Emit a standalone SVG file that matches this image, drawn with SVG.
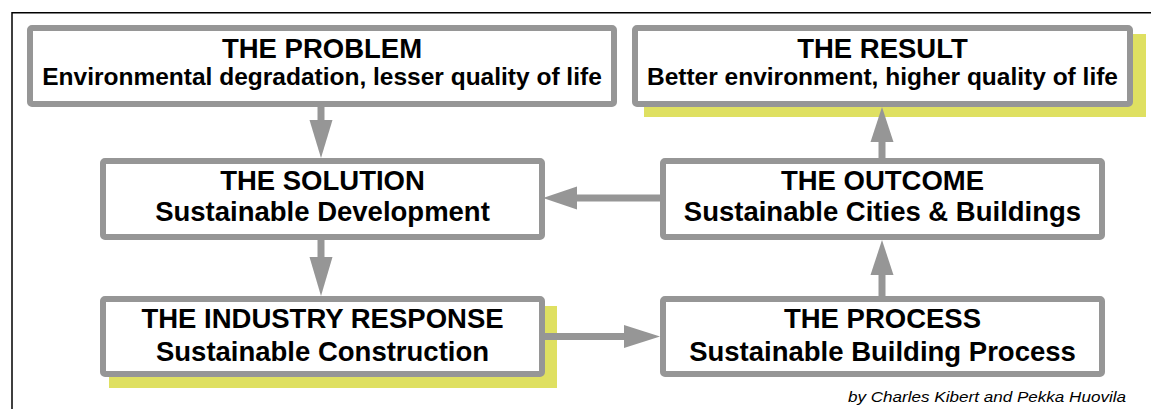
<svg xmlns="http://www.w3.org/2000/svg" width="1151" height="409" viewBox="0 0 1151 409">
<style>
.box{fill:#ffffff;stroke:#969696;stroke-width:6}
.shadow{fill:#dfe061;stroke:none}
.t{font-family:"Liberation Sans",Arial,sans-serif;font-weight:bold;fill:#000;text-anchor:middle}
.title{font-size:27.5px}
.sub{font-size:27.5px}
.subs{font-size:24.5px}
.shaft{stroke:#969696;stroke-width:7;fill:none}
.head{fill:#969696;stroke:none}
.frame{stroke:#000;stroke-width:1.5;fill:none}
.credit{font-family:"Liberation Sans",Arial,sans-serif;font-style:italic;font-size:15px;fill:#000}
</style>
<rect width="1151" height="409" fill="#ffffff"/>
<path class="frame" d="M12,409 V12.7 H1151"/>

<g id="problem">
<rect class="box" x="30" y="28" width="584" height="76" rx="2"/>
<text class="t title" x="322" y="57.5">THE PROBLEM</text>
<text class="t subs" x="322" y="84.5">Environmental degradation, lesser quality of life</text>
</g>

<g id="result">
<rect class="shadow" x="644" y="34" width="502" height="83"/>
<rect class="box" x="635" y="28" width="495" height="76" rx="2"/>
<text class="t title" x="882.5" y="57.5">THE RESULT</text>
<text class="t subs" x="882.5" y="84.5">Better environment, higher quality of life</text>
</g>

<g id="solution">
<rect class="box" x="103" y="161" width="439" height="76" rx="2"/>
<text class="t title" x="322.5" y="190">THE SOLUTION</text>
<text class="t sub" x="322.5" y="221">Sustainable Development</text>
</g>

<g id="outcome">
<rect class="box" x="663" y="161" width="439" height="76" rx="2"/>
<text class="t title" x="882.5" y="190">THE OUTCOME</text>
<text class="t sub" x="882.5" y="221">Sustainable Cities &amp; Buildings</text>
</g>

<g id="industry">
<rect class="shadow" x="109" y="306" width="448" height="82"/>
<rect class="box" x="103" y="299" width="439" height="75" rx="2"/>
<text class="t title" x="322.5" y="328">THE INDUSTRY RESPONSE</text>
<text class="t sub" x="322.5" y="361">Sustainable Construction</text>
</g>

<g id="process">
<rect class="box" x="663" y="299" width="439" height="75" rx="2"/>
<text class="t title" x="882.5" y="328">THE PROCESS</text>
<text class="t sub" x="882.5" y="361">Sustainable Building Process</text>
</g>

<g id="connectors">
<line class="shaft" x1="321" y1="107" x2="321" y2="122"/>
<polygon class="head" points="309.5,120 332.5,120 321,158"/>
<line class="shaft" x1="321" y1="240" x2="321" y2="259"/>
<polygon class="head" points="309.5,257 332.5,257 321,296"/>
<line class="shaft" x1="660" y1="198" x2="575" y2="198"/>
<polygon class="head" points="577,186.5 577,209.5 543,198"/>
<line class="shaft" x1="545" y1="336.5" x2="626" y2="336.5"/>
<polygon class="head" points="624,325 624,348 660,336.5"/>
<line class="shaft" x1="882" y1="296" x2="882" y2="273"/>
<polygon class="head" points="870.5,275 893.5,275 882,240"/>
<line class="shaft" x1="882" y1="158" x2="882" y2="140"/>
<polygon class="head" points="870.5,142 893.5,142 882,107"/>
</g>

<text class="credit" x="848" y="402" textLength="278" lengthAdjust="spacingAndGlyphs">by Charles Kibert and Pekka Huovila</text>
</svg>
